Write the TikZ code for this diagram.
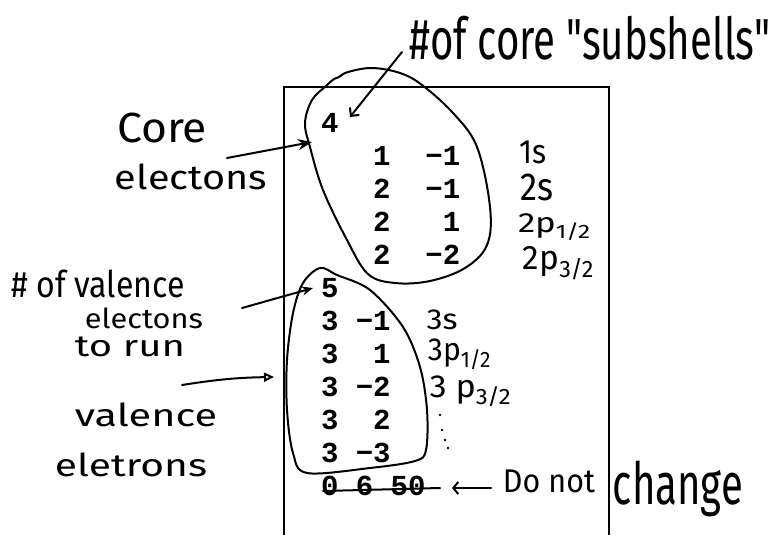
\documentclass[tikz,border=0pt]{standalone}
\usepackage{fontspec}
\usepackage{graphicx}
\usetikzlibrary{arrows.meta}
\newfontfamily\hand{Fira Sans}
\newfontfamily\monofam{Liberation Mono}
\newcommand\hw[3]{\resizebox*{#1pt}{#2pt}{\hand #3}}
\tikzset{
  ink/.style={line width=2pt, line cap=round, line join=round},
  frame/.style={line width=1.4pt},
  mono/.style={anchor=base west, inner sep=0pt, font=\monofam\bfseries\fontsize{29}{33}\selectfont},
  lab/.style={inner sep=0pt, anchor=center},
}
\begin{document}
\begin{tikzpicture}[x=1pt,y=-1pt]
\useasboundingbox (0,0) rectangle (773,535);
% file frame
\draw[frame] (284,535) -- (284,87) -- (609,87) -- (609,535);

% file contents
\node[mono] (l0) at (320.8,132) {4};
\node[mono] (l1) at (320.8,165) {~~~1~~−1};
\node[mono] (l2) at (320.8,198) {~~~2~~−1};
\node[mono] (l3) at (320.8,231) {~~~2~~~1};
\node[mono] (l4) at (320.8,264) {~~~2~~−2};
\node[mono] (l5) at (320.8,297) {5};
\node[mono] (l6) at (320.8,330) {3~−1};
\node[mono] (l7) at (320.8,363) {3~~1};
\node[mono] (l8) at (320.8,396) {3~−2};
\node[mono] (l9) at (320.8,429) {3~~2};
\node[mono] (l10) at (320.8,462) {3~−3};
\node[mono] (l11) at (320.8,495) {0~6~50};

% blobs
\draw[ink] plot[smooth cycle, tension=0.6] coordinates {
  (326,86) (334,79) (339,77) (348,72) (372,68) (400,73) (422,85) (453,113)
  (477,147) (490,207) (487,245) (465,268) (430,281) (395,283) (368,274)
  (347,240) (323,190) (310,147) (305,123) (312,100)};
\draw[ink] plot[smooth cycle, tension=0.55] coordinates {
  (320,268) (337,275) (370,290) (403,327) (420,367) (427,410) (426,450)
  (415,461) (370,468) (307,473) (293,453) (287,410) (287,360) (293,313) (303,283)};

% strike-through
\coordinate (s0) at (323,491);
\coordinate (s1) at (440,488);
\draw[ink] (s0) -- (s1);

% handwritten labels
\node[lab] (t1) at (590,38) {\hw{360}{44}{\#of core "subshells"}};
\node[lab] (t2) at (162,128) {\hw{90}{30}{Core}};
\node[lab] (t3) at (191,177) {\hw{152}{26}{electons}};
\node[lab] (t4) at (98,284) {\hw{173}{28}{\# of valence}};
\node[lab] (t5) at (144,318) {\hw{118}{21}{electons}};
\node[lab] (t6) at (130,347) {\hw{110}{20}{to run}};
\node[lab] (t7) at (146,415) {\hw{142}{24}{valence}};
\node[lab] (t8) at (131,465) {\hw{152}{24}{eletrons}};
\node[lab] (t9) at (533,152) {\hw{27}{23}{1s}};
\node[lab] (t10) at (537,187) {\hw{33}{27}{2s}};
\node[lab] (t11) at (555,227) {\hw{74}{27}{2p\textsubscript{1/2}}};
\node[lab] (t12) at (559,263) {\hw{72}{33}{2p\textsubscript{3/2}}};
\node[lab] (t13) at (442,320) {\hw{31}{20}{3s}};
\node[lab] (t14) at (460,354) {\hw{64}{31}{3p\textsubscript{1/2}}};
\node[lab] (t15) at (471,391) {\hw{83}{31}{3 p\textsubscript{3/2}}};
\node[lab] (t16) at (549,481) {\hw{92}{23}{Do not}};
\node[lab] (t17) at (678,489) {\hw{130}{56}{change}};

% dots
\foreach \p in {(440,415),(442,430),(445,440),(448,448)} \fill \p circle (1.4);

% arrows
\coordinate (a1s) at (402,52);
\coordinate (a1e) at (350,117);
\draw[ink, -{Straight Barb[length=6pt,width=12pt]}] (a1s) -- (a1e);
\coordinate (a2s) at (227,158);
\coordinate (a2e) at (312,142);
\draw[ink, -{Stealth[length=14pt,width=11pt]}] (a2s) -- (a2e);
\coordinate (a3s) at (242,308);
\coordinate (a3e) at (313,288);
\draw[ink, -{Stealth[length=11pt,width=9pt]}] (a3s) -- (a3e);
\coordinate (a4s) at (182,385);
\coordinate (a4e) at (274,377);
\draw[ink, -{Triangle[open,length=10pt,width=9pt]}] (a4s) to[bend left=4] (a4e);
\coordinate (a5s) at (491,488);
\coordinate (a5e) at (452,488);
\draw[ink, -{Straight Barb[length=5pt,width=12pt]}] (a5s) -- (a5e);
\end{tikzpicture}
\end{document}
